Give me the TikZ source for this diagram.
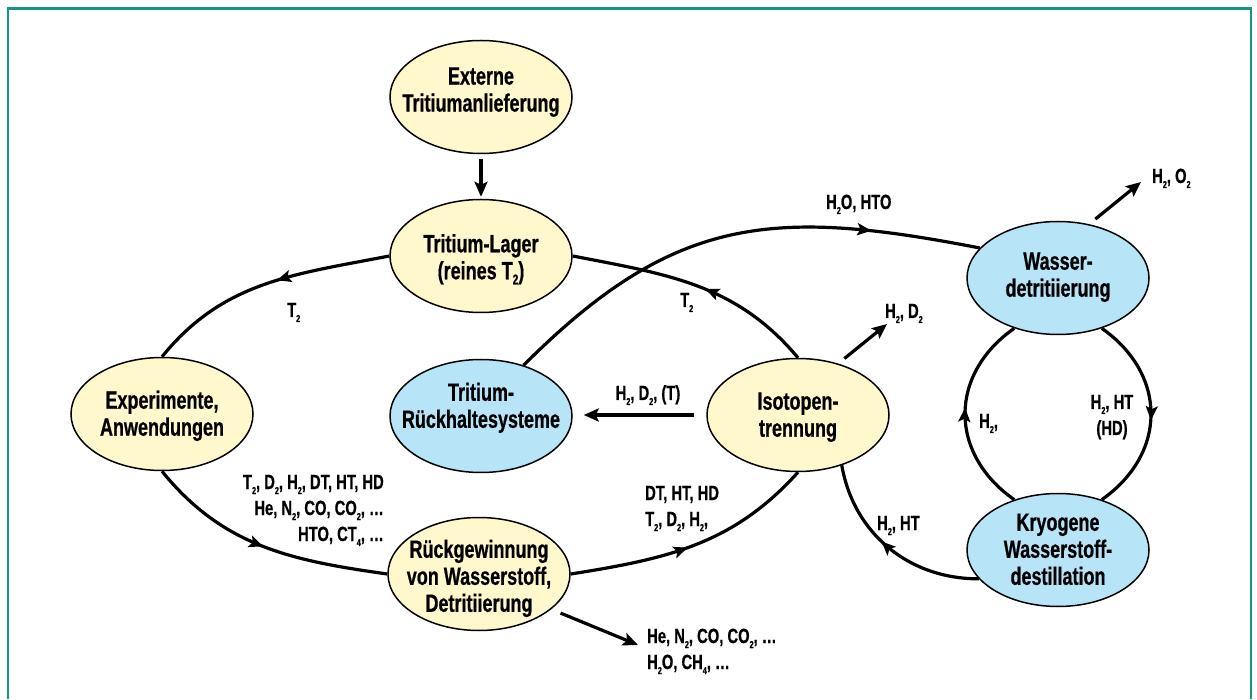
\documentclass[tikz,border=0pt]{standalone}
\usepackage{fontspec}
\setmainfont{Liberation Sans}[FakeStretch=0.72, BoldFeatures={FakeBold=0.6}]
\usetikzlibrary{shapes.geometric, arrows.meta, decorations.markings}
\definecolor{nodeyellow}{RGB}{255,248,204}
\definecolor{nodeblue}{RGB}{184,228,248}
\definecolor{frameteal}{RGB}{20,150,135}
\newcommand\nt[2][0]{\makebox[0pt]{\raisebox{#1pt}[0pt][0pt]{\begin{tabular}{@{}c@{}}#2\end{tabular}}}}
\newcommand\lt[2]{\begin{tabular}[t]{@{}#1@{}}#2\end{tabular}}
\newcommand\sub[1]{\raisebox{-5pt}{\fontsize{10}{10}\selectfont #1}}
\newcommand\subn[1]{\raisebox{-5pt}{\fontsize{14}{14}\selectfont #1}}
\begin{document}
\begin{tikzpicture}[x=1pt,y=1pt,
 ell/.style={ellipse, draw, line width=1.5pt, minimum width=182pt, minimum height=113pt, inner sep=0pt, font=\fontsize{25}{27}\selectfont\bfseries},
 yel/.style={ell, fill=nodeyellow},
 blu/.style={ell, fill=nodeblue},
 lbl/.style={inner sep=0pt, font=\fontsize{20.5}{26}\selectfont\bfseries},
 con/.style={line width=3.2pt},
 tip/.style={-{Stealth[length=15pt,width=13pt,inset=3pt]}},
 midarrow/.style={postaction={decorate}, decoration={markings, mark=at position #1 with {\arrow{Stealth[length=14pt,width=12pt,inset=3pt]}}}}
]
\useasboundingbox (0,0) rectangle (1257,699);
\draw[frameteal, line width=2.5pt] (8,0) -- (8,690.5) -- (1251,690.5) -- (1251,0);

\node[yel] (ext) at (481,602) {\nt[-1.9]{Externe\\Tritiumanlieferung}};
\node[yel] (lag) at (481,443) {\nt[-10.6]{Tritium-Lager\\(reines T\subn{2})}};
\node[yel] (exp) at (162,285) {\nt[-9]{Experimente,\\Anwendungen}};
\node[blu] (rue) at (481,283) {\nt[0.9]{Tritium-\\Rückhaltesysteme}};
\node[yel] (iso) at (798,284) {\nt[-9]{Isotopen-\\trennung}};
\node[yel] (rgw) at (479,125) {\nt[-11.6]{Rückgewinnung\\von Wasserstoff,\\Detritiierung}};
\node[blu] (was) at (1058,421) {\nt[-6]{Wasser-\\detritiierung}};
\node[blu] (kry) at (1058,149) {\nt[-8.6]{Kryogene\\Wasserstoff-\\destillation}};

\draw[con, tip, shorten <=5pt, shorten >=2pt] (ext) -- (lag);
\draw[con, midarrow=0.45] (lag.west) to[out=191, in=51] (exp.north);
\draw[con, midarrow=0.5] (exp.south) to[out=-51, in=172] (rgw.west);
\draw[con, midarrow=0.47] (rgw.east) to[out=9, in=228] (iso.south);
\draw[con, midarrow=0.46] (iso.north) to[out=130, in=-11] (lag.east);
\draw[con, midarrow=0.78] (rue.50) to[out=45, in=169, looseness=1.15] (was.159);
\draw[con, tip, shorten <=12pt, shorten >=11pt] (iso.west) -- (rue.east |- iso.west);
\draw[con, midarrow=0.53] (was.-49) to[out=-35, in=35, looseness=1.2] (kry.49);
\draw[con, midarrow=0.53] (kry.131) to[out=145, in=215, looseness=1.2] (was.229);
\draw[con, midarrow=0.55] (kry.200) to[out=180, in=-80] (iso.-49);

\coordinate (tHD) at (887,375);
\draw[con, tip, shorten <=8pt] (iso.52) -- (tHD);
\coordinate (tHO) at (1141,517);
\draw[con, tip, shorten <=8pt] (was.60) -- (tHO);
\coordinate (tHe) at (638,54);
\draw[con, tip, shorten <=10pt] (rgw.-26) -- (tHe);

\node[lbl, anchor=base west] (lT2a) at (287,382) {T\sub{2}};
\node[lbl, anchor=base west] (lT2b) at (680,392) {T\sub{2}};
\node[lbl, anchor=base west] (lH2O) at (826,490) {H\sub{2}O, HTO};
\node[lbl, anchor=base west] (lHO) at (1152,516) {H\sub{2}, O\sub{2}};
\node[lbl, anchor=base west] (lHD) at (885,381) {H\sub{2}, D\sub{2}};
\node[lbl, anchor=base] (lHDT) at (648,299) {H\sub{2}, D\sub{2}, (T)};
\node[lbl, anchor=base west] (lH2) at (979,271) {H\sub{2},};
\node[lbl, anchor=base] (lHT) at (1112,290) {\lt{c}{H\sub{2}, HT\\(HD)}};
\node[lbl, anchor=base west] (lHTl) at (877,169) {H\sub{2}, HT};
\node[lbl, anchor=base west] (lDT) at (645,199) {\lt{l}{DT, HT, HD\\T\sub{2}, D\sub{2}, H\sub{2},}};
\node[lbl, anchor=base east] (lmix) at (384,210) {\lt{r}{T\sub{2}, D\sub{2}, H\sub{2}, DT, HT, HD\\He, N\sub{2}, CO, CO\sub{2}, …\\HTO, CT\sub{4}, …}};
\node[lbl, anchor=base west] (lHe) at (647,56) {\lt{l}{He, N\sub{2}, CO, CO\sub{2}, …\\H\sub{2}O, CH\sub{4}, …}};
\end{tikzpicture}
\end{document}
